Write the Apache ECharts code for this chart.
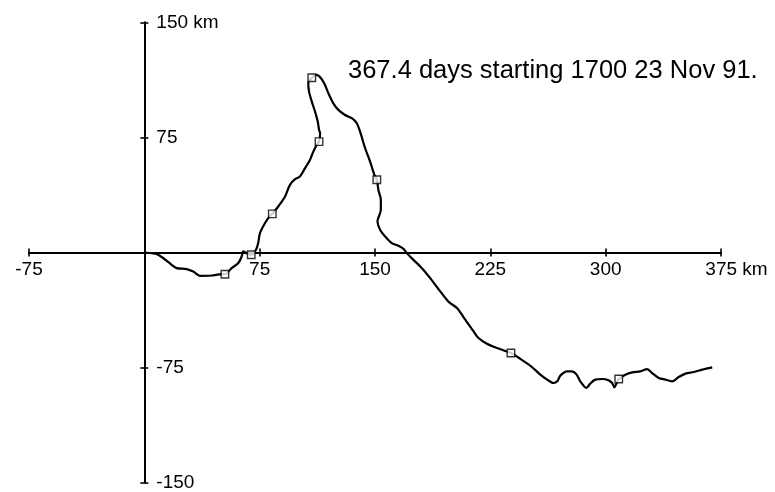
<!DOCTYPE html>
<html>
<head>
<meta charset="utf-8">
<script src="https://cdn.jsdelivr.net/npm/echarts@6/dist/echarts.min.js"></script>
<style>
  html, body { margin: 0; padding: 0; background: #fff; }
  #chart { width: 775px; height: 492px; }
</style>
</head>
<body>
<div id="chart"></div>
<script>
// Drift track (km east, km north of start)
const trackX = [0, 5, 7.9, 12.2, 17.7, 21.0, 27.5, 31.8, 36.1, 43.8, 50.3, 52.4, 56.8, 61.1, 63.3, 64.3, 66.5, 69.5, 72.6, 74.1, 75.2, 78.5, 81.7, 83.2, 87.1, 91.5, 94.7, 98.0, 101.2, 104.5, 107.7, 109.9, 112.1, 113.6, 114.3, 113.6, 112.8, 111.0, 108.9, 107.1, 106.6, 108.9, 112.1, 114.9, 117.5, 119.7, 122.9, 126.2, 130.5, 134.9, 138.2, 140.3, 143.6, 146.8, 149.6, 151.2, 152.2, 153.8, 153.8, 151.6, 153.3, 156.6, 160.9, 165.2, 168.5, 170.7, 175.0, 180.5, 185.9, 191.0, 196.7, 198.9, 203.3, 208.7, 214.1, 217.3, 222.8, 229.3, 238.4, 244.5, 252.1, 257.5, 261.9, 266.1, 268.8, 270.5, 274.9, 278.1, 281.0, 283.5, 287.4, 290.0, 293.3, 297.7, 302.0, 304.2, 305.7, 307.0, 308.5, 312.8, 317.2, 322.6, 327.0, 330.2, 334.5, 338.9, 343.2, 347.5, 351.9, 357.3, 362.8, 369.3];
const trackY = [0, -0.5, -1.0, -3.6, -8.0, -10.2, -10.8, -12.4, -15.2, -15.0, -14.1, -14.2, -10.2, -6.9, -2.6, 0.7, -0.4, -1.5, 1.8, 6.5, 12.6, 19.2, 23.9, 25.2, 30.0, 36.5, 44.1, 47.8, 49.5, 55.0, 60.4, 65.8, 70.2, 72.3, 77.8, 80.0, 85.3, 91.9, 98.4, 104.9, 110.4, 114.0, 115.8, 113.6, 109.3, 103.8, 97.3, 93.0, 89.7, 87.6, 84.3, 78.8, 68.0, 59.3, 50.6, 47.4, 40.8, 34.3, 27.8, 20.2, 14.8, 10.4, 6.1, 4.4, 2.4, -0.4, -4.8, -10.2, -16.7, -23.5, -30.8, -33.0, -36.2, -43.8, -51.5, -55.8, -59.5, -62.3, -65.5, -69.4, -74.7, -79.7, -82.9, -85.1, -83.6, -80.3, -77.5, -77.5, -79.5, -84.0, -88.3, -85.5, -82.9, -82.5, -83.4, -85.1, -87.9, -85.5, -82.5, -79.7, -78.2, -77.5, -76.0, -78.6, -81.8, -82.9, -84.0, -81.2, -79.0, -77.9, -76.4, -74.9];
// Square markers along the track
const markX = [52.4, 69.5, 83.2, 113.6, 108.9, 151.2, 238.4, 308.5];
const markY = [-14.2, -1.5, 25.2, 72.3, 114.0, 47.4, -65.5, -82.5];
// Axis ticks
const xTicks = [-75, 0, 75, 150, 225, 300, 375];
const yTicks = [-150, -75, 0, 75, 150];
const titleText = '367.4 days starting 1700 23 Nov 91.';

const FONT = '"Liberation Sans", Arial, Helvetica, sans-serif';
const track = trackX.map((x, i) => [x, trackY[i]]);
const marks = markX.map((x, i) => [x, markY[i]]);

const W = 775, H = 492;
const G = { left: 29, right: 54, top: 22.5, bottom: 9.5 };
const gw = W - G.left - G.right, gh = H - G.top - G.bottom;
const xMin = xTicks[0], xMax = xTicks[xTicks.length - 1];
const yMin = yTicks[0], yMax = yTicks[yTicks.length - 1];
// distances (px) from grid edges to the zero lines
const zeroFromLeft = (0 - xMin) / (xMax - xMin) * gw;
const zeroFromBottom = (0 - yMin) / (yMax - yMin) * gh;

const LABEL_SIZE = 19;
const axisLineStyle = { color: '#000', width: 2 };
const tickStyle = { color: '#000', width: 1.6 };

const chart = echarts.init(document.getElementById('chart'), null, { renderer: 'canvas' });
chart.setOption({
  animation: false,
  backgroundColor: '#fff',
  title: {
    text: titleText,
    left: 348,
    top: 58,
    padding: 0,
    textStyle: { fontSize: 25.5, fontWeight: 'normal', color: '#000', fontFamily: FONT }
  },
  grid: { left: G.left, right: G.right, top: G.top, bottom: G.bottom, containLabel: false, outerBoundsMode: 'none' },
  xAxis: [
    {
      type: 'value', min: xMin, max: xMax, interval: 75,
      position: 'bottom', offset: -zeroFromBottom,
      axisLine: { onZero: false, lineStyle: axisLineStyle },
      axisTick: { show: true, length: 4, lineStyle: tickStyle },
      axisLabel: {
        margin: 8, fontSize: LABEL_SIZE, color: '#000', fontFamily: FONT,
        showMinLabel: true, showMaxLabel: true,
        formatter: v => v === 0 ? '' : (v === 375 ? '{u|375 km}' : String(v)),
        rich: { u: { fontSize: LABEL_SIZE, color: '#000', fontFamily: FONT, padding: [0, 0, 0, 31] } }
      },
      splitLine: { show: false }
    },
    {
      type: 'value', min: xMin, max: xMax, interval: 75,
      position: 'top', offset: -(gh - zeroFromBottom),
      axisLine: { onZero: false, lineStyle: axisLineStyle },
      axisTick: { show: true, length: 4, lineStyle: tickStyle },
      axisLabel: { show: false },
      splitLine: { show: false }
    }
  ],
  yAxis: [
    {
      type: 'value', min: yMin, max: yMax, interval: 75,
      position: 'left', offset: -zeroFromLeft,
      axisLine: { onZero: false, lineStyle: axisLineStyle },
      axisTick: { show: true, length: 4, lineStyle: tickStyle },
      axisLabel: {
        inside: true, margin: 12, fontSize: LABEL_SIZE, color: '#000', fontFamily: FONT,
        showMinLabel: true, showMaxLabel: true,
        formatter: v => v === 0 ? '' : (v === 150 ? '150 km' : String(v))
      },
      splitLine: { show: false }
    },
    {
      type: 'value', min: yMin, max: yMax, interval: 75,
      position: 'right', offset: -(gw - zeroFromLeft),
      axisLine: { onZero: false, lineStyle: axisLineStyle },
      axisTick: { show: true, length: 4, lineStyle: tickStyle },
      axisLabel: { show: false },
      splitLine: { show: false }
    }
  ],
  series: [
    {
      type: 'line', xAxisIndex: 0, yAxisIndex: 0,
      data: track, showSymbol: false, smooth: 0.3,
      lineStyle: { color: '#000', width: 2.2 },
      z: 3
    },
    {
      type: 'scatter', xAxisIndex: 0, yAxisIndex: 0,
      data: marks, symbol: 'rect', symbolSize: 7.5,
      itemStyle: { color: '#fff', borderColor: '#000', borderWidth: 1.4 },
      z: 4
    }
  ]
});
</script>
</body>
</html>
